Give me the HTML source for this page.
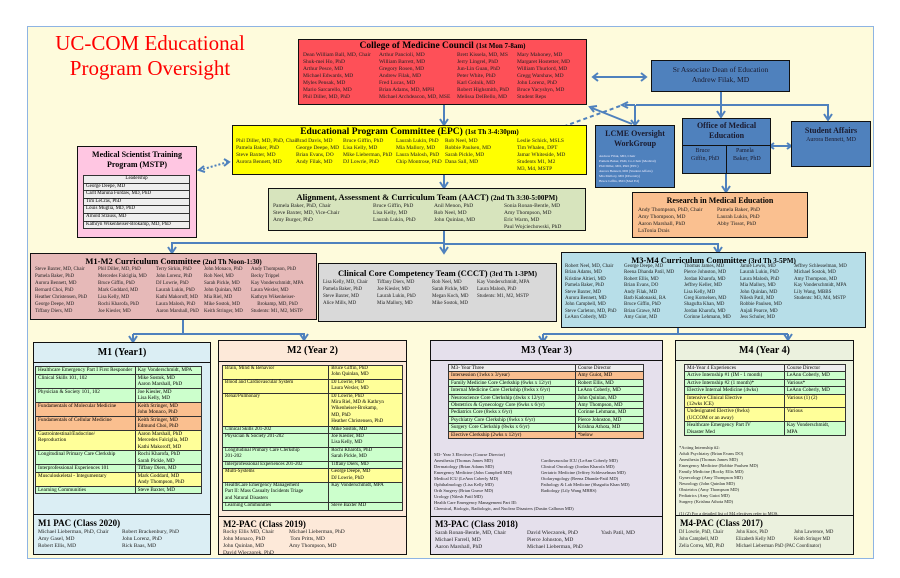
<!DOCTYPE html>
<html><head><meta charset="utf-8"><style>
body{margin:0;width:900px;height:578px;background:#fff;position:relative;overflow:hidden;font-family:"Liberation Serif",serif;}
.a{position:absolute;box-sizing:border-box}
.bx{position:absolute;box-sizing:border-box;border:1.5px solid #111;overflow:hidden}
.h{font-weight:bold;text-align:center;font-size:10px;line-height:12px}
.c{position:absolute;font-size:5.5px;line-height:7px;white-space:pre;color:#222}
table{border-collapse:collapse;font-size:5.3px;line-height:6.5px}
td{border:1px solid #333;padding:0 2px;vertical-align:top}
.g{background:#ccffcc}.o{background:#fabf8f}.y{background:#ffff99}.gr{background:#eee}
</style></head><body>
<div class="a" style="left:27px;top:26px;width:847px;height:533px;background:#fefbdc;border:1px solid #8eb4e3"></div>
<div class="a" style="left:40px;top:31px;width:220px;text-align:center;color:#f00;font-size:21px;line-height:25px">UC-COM Educational<br>Program Oversight</div>

<svg class="a" style="left:0;top:0" width="900" height="578">
<g stroke="#4f81bd" stroke-width="2" fill="none">
<path d="M594 77H645"/><path d="M598 73L593 77L598 81M641 73L646 77L641 81"/>
<path d="M721 92V115"/><path d="M717 111L721 117L725 111"/>
<path d="M636 105H828V118"/><path d="M824 114L828 120L832 114"/>
<path d="M635 105V123"/><path d="M631 120L635 125L639 120"/>
<path d="M635 105L625 105"/><path d="M628 102L622 105L628 108"/>
<path d="M632 124L592 108"/><path d="M597 106L590 107L594 112"/>
<path d="M620 106L554 130" stroke-dasharray="4 3"/><path d="M558 126L552 131L559 132"/>
<path d="M771 146H790"/><path d="M774 143L770 146L774 149M787 143L791 146L787 149"/>
<path d="M726 174V190"/><path d="M722 186L726 192L730 186"/>
<path d="M444 105V123"/><path d="M440 119L444 125L448 119"/>
<path d="M444 175V186"/><path d="M440 182L444 188L448 182"/>
<path d="M444 231V251"/><path d="M440 247L444 253L448 247"/>
<path d="M444 243H172V251"/><path d="M168 247L172 253L176 247"/>
<path d="M444 244H718V251"/><path d="M714 247L718 253L722 247"/>
<path d="M183 319V334M133 334H304V340M133 334V340"/><path d="M129 336L133 342L137 336M300 334L304 340L308 334"/>
<path d="M678 328V334M543 334H788M543 334V340M788 334V340"/><path d="M539 336L543 342L547 336M784 334L788 340L792 334"/>
<path d="M228 162L200 170" stroke-dasharray="2 2"/><path d="M204 166L199 170L205 172M224 159L229 162L224 166"/>
</g></svg>

<div class="bx" style="left:298px;top:39px;width:289px;height:66px;background:#fe5058">
<div class="h" style="font-size:9.5px">College of Medicine Council <span style="font-size:7px">(1st Mon 7-8am)</span></div>
<div class="c" style="left:4px;top:12px">Dean William Ball, MD, Chair
Shuk-mei Ho, PhD
Arthur Pesce, MD
Michael Edwards, MD
Myles Pensak, MD
Mario Sarcarello, MD
Phil Diller, MD, PhD</div>
<div class="c" style="left:80px;top:12px">Arthur Pancioli, MD
William Barrett, MD
Gregory Rosen, MD
Andrew Filak, MD
Fred Lucas, MD
Brian Adams, MD, MPH
Michael Archdeacon, MD, MSE</div>
<div class="c" style="left:158px;top:12px">Brett Kissela, MD, MS
Jerry Lingrel, PhD
Jun-Lin Guan, PhD
Peter White, PhD
Karl Golnik, MD
Robert Highsmith, PhD
Melissa DelBello, MD</div>
<div class="c" style="left:218px;top:12px">Mary Mahoney, MD
Margaret Hostetter, MD
William Thurlord, MD
Gregg Warshaw, MD
John Lorenz, PhD
Bruce Yacyshyn, MD
Student Reps</div></div>

<div class="bx" style="left:651px;top:60px;width:139px;height:32px;background:#4f81bd;color:#1a1a2e;text-align:center;font-size:7.5px;line-height:10px;padding-top:4px">Sr Associate Dean of Education<br>Andrew Filak, MD</div>

<div class="bx" style="left:232px;top:125px;width:355px;height:50px;background:#ffff00">
<div class="h" style="font-size:9.5px">Educational Program Committee (EPC) <span style="font-size:7px">(1st Th 3-4:30pm)</span></div>
<div class="c" style="left:3px;top:12px">Phil Diller, MD, PhD, Chair
Pamela Baker, PhD
Steve Baxter, MD
Aurora Bennett, MD</div>
<div class="c" style="left:63px;top:12px">Brad Davis, MD
George Deepe, MD
Brian Evans, DO
Andy Filak, MD</div>
<div class="c" style="left:110px;top:12px">Bruce Giffin, PhD
Lisa Kelly, MD
Mike Lieberman, PhD
DJ Lowrie, PhD</div>
<div class="c" style="left:163px;top:12px">Laurah Lukin, PhD
Mia Mallory, MD
Laura Malosh, PhD
Chip Montrose, PhD</div>
<div class="c" style="left:212px;top:12px">Rob Neel, MD
Robbie Paulsen, MD
Sarah Pickle, MD
Dana Sall, MD</div>
<div class="c" style="left:284px;top:12px">Leslie Schick, MSLS
Tim Whalen, DPT
Jamar Whiteside, MD
Students M1, M2
M3, M4, MSTP</div></div>

<div class="bx" style="left:77px;top:146px;width:120px;height:92px;background:#ffc6e2">
<div class="h" style="font-size:8px;line-height:10px;margin-top:3px">Medical Scientist Training<br>Program (MSTP)</div>
<table style="position:absolute;left:5px;top:28px;width:107px;background:#eee;font-size:5px;line-height:6.6px"><tr><td style="text-align:center">Leadership</td></tr><tr><td>George Deepe, MD</td></tr><tr><td>Carlt Maruna Furdaw, MD, PhD</td></tr><tr><td>Tim LeCras, PhD</td></tr><tr><td>Louis Muglia, MD, PhD</td></tr><tr><td>Arnold Strauss, MD</td></tr><tr><td>Kathryn Wikenheiser-Brokamp, MD, PhD</td></tr></table></div>

<div class="bx" style="left:595px;top:125px;width:80px;height:63px;background:#4f81bd">
<div class="h" style="font-size:8px;line-height:10px;margin-top:3px;color:#1a1a2e">LCME Oversight<br>WorkGroup</div>
<div class="c" style="left:3px;top:28px;font-size:3.5px;line-height:5px;color:#eef">Andrew Filak, MD, Chair
Pamela Baker, PhD, Co-Chair (Medical)
Phil Diller, MD, PhD (EPC)
Aurora Bennett, MD (Student Affairs)
Mia Mallory, MD (Diversity)
Bruce Giffin, PhD (Med Ed)</div></div>

<div class="bx" style="left:682px;top:118px;width:89px;height:56px;background:#4f81bd">
<div class="h" style="font-size:8px;line-height:10px;margin-top:2px;color:#1a1a2e">Office of Medical<br>Education</div>
<div class="a" style="left:0;top:26px;width:100%;border-top:1.5px solid #111"></div>
<div class="a" style="left:43px;top:26px;height:28px;border-left:1.5px solid #111"></div>
<div class="c" style="left:8px;top:28px;font-size:6px;line-height:8px;color:#1a1a2e">   Bruce
Giffin, PhD</div>
<div class="c" style="left:50px;top:28px;font-size:6px;line-height:8px;color:#1a1a2e">  Pamela
Baker, PhD</div></div>

<div class="bx" style="left:791px;top:121px;width:80px;height:46px;background:#4f81bd">
<div class="h" style="font-size:8px;margin-top:3px;color:#1a1a2e">Student Affairs</div>
<div style="text-align:center;font-size:6px;color:#1a1a2e">Aurora Bennett, MD</div></div>

<div class="bx" style="left:632px;top:192px;width:176px;height:46px;background:#fac090">
<div class="h" style="font-size:8px;margin-top:2px">Research in Medical Education</div>
<div class="c" style="left:5px;top:14px">Andy Thompson, PhD, Chair
Amy Thompson, MD
Aaron Marshall, PhD
LaTonia Drais</div>
<div class="c" style="left:84px;top:14px">Pamela Baker, PhD
Laurah Lukin, PhD
Abby Tissot, PhD</div></div>

<div class="bx" style="left:268px;top:188px;width:318px;height:43px;background:#d7e4bd">
<div class="h" style="font-size:8.5px;margin-top:2px">Alignment, Assessment &amp; Curriculum Team (AACT) <span style="font-size:7px">(2nd Th 3:30-5:00PM)</span></div>
<div class="c" style="left:4px;top:14px">Pamela Baker, PhD, Chair
Steve Baxter, MD, Vice-Chair
Amy Burger, PhD</div>
<div class="c" style="left:104px;top:14px">Bruce Giffin, PhD
Lisa Kelly, MD
Laurah Lukin, PhD</div>
<div class="c" style="left:165px;top:14px">Anil Menon, PhD
Rob Neel, MD
John Quinlan, MD</div>
<div class="c" style="left:235px;top:14px">Sonia Ronan-Bentle, MD
Amy Thompson, MD
Eric Warm, MD
Paul Wojciechowski, PhD</div></div>

<div class="bx" style="left:30px;top:253px;width:287px;height:67px;background:#e6b9b8">
<div class="h" style="font-size:8.5px;margin-top:1px">M1-M2 Curriculum Committee <span style="font-size:7px">(2nd Th Noon-1:30)</span></div>
<div class="c" style="left:4px;top:12px;font-size:5px">Steve Baxter, MD, Chair
Pamela Baker, PhD
Aurora Bennett, MD
Bernard Choi, PhD
Heather Christensen, PhD
George Deepe, MD
Tiffany Diers, MD</div>
<div class="c" style="left:67px;top:12px;font-size:5px">Phil Diller, MD, PhD
Mercedes Falciglia, MD
Bruce Giffin, PhD
Mark Goddard, MD
Lisa Kelly, MD
Rochi Kharofa, PhD
Joe Kiesler, MD</div>
<div class="c" style="left:125px;top:12px;font-size:5px">Terry Sirkin, PhD
John Lorenz, PhD
DJ Lowrie, PhD
Laurah Lukin, PhD
Kathi Makoroff, MD
Laura Malosh, PhD
Aaron Marshall, PhD</div>
<div class="c" style="left:173px;top:12px;font-size:5px">John Monaco, PhD
Rob Neel, MD
Sarah Pickle, MD
John Quinlan, MD
Mia Riel, MD
Mike Sostok, MD
Keith Stringer, MD</div>
<div class="c" style="left:220px;top:12px;font-size:5px">Andy Thompson, PhD
Becky Trippel
Kay Vonderschmidt, MPA
Laura Wexler, MD
Kathryn Wikenheiser-
     Brokamp, MD, PhD
Students: M1, M2, MSTP</div></div>

<div class="bx" style="left:318px;top:263px;width:239px;height:59px;background:#d9d9d9">
<div class="h" style="font-size:8.5px;margin-top:3px">Clinical Core Competency Team (CCCT) <span style="font-size:7px">(3rd Th 1-3PM)</span></div>
<div class="c" style="left:4px;top:15px;font-size:5px">Lisa Kelly, MD, Chair
Pamela Baker, PhD
Steve Baxter, MD
Alice Mills, MD</div>
<div class="c" style="left:58px;top:15px;font-size:5px">Tiffany Diers, MD
Joe Kiesler, MD
Laurah Lukin, PhD
Mia Mallory, MD</div>
<div class="c" style="left:113px;top:15px;font-size:5px">Rob Neel, MD
Sarah Pickle, MD
Megan Koch, MD
Mike Sostok, MD</div>
<div class="c" style="left:158px;top:15px;font-size:5px">Kay Vonderschmidt, MPA
Laura Malosh, PhD
Students: M1, M2, MSTP</div></div>

<div class="bx" style="left:561px;top:252px;width:305px;height:76px;background:#b7dee8">
<div class="h" style="font-size:8.5px;margin-top:1px">M3-M4 Curriculum Committee <span style="font-size:7px">(3rd Th 3-5PM)</span></div>
<div class="c" style="left:3px;top:11px;font-size:5px;line-height:6.4px">Robert Neel, MD, Chair
Brian Adams, MD
Kristine Altieri, MD
Pamela Baker, PhD
Steve Baxter, MD
Aurora Bennett, MD
John Campbell, MD
Steve Carleton, MD, PhD
LeAnn Coberly, MD</div>
<div class="c" style="left:62px;top:11px;font-size:5px;line-height:6.4px">George Deepe, MD
Reena Dhanda Patil, MD
Robert Ellis, MD
Brian Evans, DO
Andy Filak, MD
Barb Kadonaski, BA
Bruce Giffin, PhD
Brian Grawe, MD
Amy Guiot, MD</div>
<div class="c" style="left:122px;top:11px;font-size:5px;line-height:6.4px">Thomas James, MD
Pierce Johnston, MD
Jordan Kharofa, MD
Jeffrey Keller, MD
Lisa Kelly, MD
Greg Kornelsen, MD
Shagufta Khan, MD
Jordan Kharofa, MD
Corinne Lehmann, MD</div>
<div class="c" style="left:178px;top:11px;font-size:5px;line-height:6.4px">Jamie Lewis, MD
Laurah Lukin, PhD
Laura Malosh, PhD
Mia Mallory, MD
John Quinlan, MD
Nilesh Patil, MD
Robbie Paulsen, MD
Anjali Pearce, MD
Jess Schuler, MD</div>
<div class="c" style="left:232px;top:11px;font-size:5px;line-height:6.4px">Jeffrey Schlesselman, MD
Michael Sostok, MD
Amy Thompson, MD
Kay Vonderschmidt, MPA
Lily Wang, MBBS
Students: M3, M4, MSTP</div></div>

<!-- M1 -->
<div class="bx" style="left:33px;top:342px;width:178px;height:213px;background:#dbeef4">
<div class="a" style="left:0;top:0;width:100%;height:20px;border-bottom:1.5px solid #111" ><div class="h" style="margin-top:4px">M1 (Year1)</div></div>
<table style="position:absolute;left:1px;top:23px;width:167px;font-size:5.2px;line-height:6.5px">
<tr class="g"><td style="width:60%">Healthcare Emergency Part I First Responder</td><td>Kay Vonderschmidt, MPA</td></tr>
<tr class="g"><td>Clinical Skills 101, 102</td><td>Mike Sostok, MD<br>Aaron Marshall, PhD</td></tr>
<tr class="g"><td>Physician &amp; Society 101, 102</td><td>Joe Kiesler, MD<br>Lisa Kelly, MD</td></tr>
<tr class="o"><td>Fundamentals of Molecular Medicine</td><td>Keith Stringer, MD<br>John Monaco, PhD</td></tr>
<tr class="o"><td>Fundamentals of Cellular Medicine</td><td>Keith Stringer, MD<br>Edmund Choi, PhD</td></tr>
<tr class="y"><td>Gastrointestinal/Endocrine/<br>Reproduction</td><td>Aaron Marshall, PhD<br>Mercedes Falciglia, MD<br>Kathi Makoroff, MD</td></tr>
<tr class="g"><td>Longitudinal Primary Care Clerkship</td><td>Rochi Kharofa, PhD<br>Sarah Pickle, MD</td></tr>
<tr class="g"><td>Interprofessional Experiences 101</td><td>Tiffany Diers, MD</td></tr>
<tr class="y"><td>Musculoskeletal - Integumentary</td><td>Mark Goddard, MD<br>Andy Thompson, PhD</td></tr>
<tr class="g"><td>Learning Communities</td><td>Steve Baxter, MD</td></tr></table>
<div class="a" style="left:0;top:171px;width:100%;height:45px;border-top:1.5px solid #111;background:#dbeef4"></div>
<div class="h" style="position:absolute;left:4px;top:174px;font-size:9px;text-align:left">M1 PAC (Class 2020)</div>
<div class="c" style="left:4px;top:186px">Michael Lieberman, PhD, Chair
Amy Gasel, MD
Robert Ellis, MD</div>
<div class="c" style="left:88px;top:186px">Robert Brackenbury, PhD
John Lorenz, PhD
Rick Baas, MD</div></div>

<!-- M2 -->
<div class="bx" style="left:218px;top:340px;width:189px;height:215px;background:#fde9d9">
<div class="a" style="left:0;top:0;width:100%;height:21px;border-bottom:1.5px solid #111"><div class="h" style="margin-top:4px">M2 (Year 2)</div></div>
<table style="position:absolute;left:3px;top:24px;width:181px;font-size:5px;line-height:6.4px" class="y">
<tr><td style="width:59%">Brain, Mind &amp; Behavior</td><td>Bruce Giffin, PhD<br>John Quinlan, MD</td></tr>
<tr><td>Blood and Cardiovascular System</td><td>DJ Lowrie, PhD<br>Laura Wexler, MD</td></tr>
<tr><td>Renal/Pulmonary</td><td>DJ Lowrie, PhD<br>Mira Riel, MD &amp; Kathryn<br>Wikenheiser-Brokamp,<br>MD, PhD<br>Heather Christensen, PhD</td></tr>
<tr class="g"><td>Clinical Skills 201-202</td><td>Mike Sostok, MD</td></tr>
<tr class="g"><td>Physician &amp; Society 201-202</td><td>Joe Kiesler, MD<br>Lisa Kelly, MD</td></tr>
<tr class="g"><td>Longitudinal Primary Care Clerkship<br>201-202</td><td>Rochi Kharofa, PhD<br>Sarah Pickle, MD</td></tr>
<tr class="g"><td>Interprofessional Experiences 201-202</td><td>Tiffany Diers, MD</td></tr>
<tr><td>Multi-Systems</td><td>George Deepe, MD<br>DJ Lowrie, PhD</td></tr>
<tr class="g"><td>HealthCare Emergency Management<br>Part II: Mass Casualty Incidents Triage<br>and Natural Disasters</td><td>Kay Vonderschmidt, MPA</td></tr>
<tr class="g"><td>Learning Communities</td><td>Steve Baxter MD</td></tr></table>
<div class="a" style="left:0;top:175px;width:100%;height:40px;border-top:1.5px solid #111;background:#fde9d9"></div>
<div class="h" style="position:absolute;left:4px;top:177px;font-size:9px;text-align:left">M2-PAC (Class 2019)</div>
<div class="c" style="left:4px;top:188px">Rocky Ellis MD, Chair
John Monaco, PhD
John Quinlan, MD
David Wieczorek, PhD</div>
<div class="c" style="left:70px;top:188px">Michael Lieberman, PhD
 Tom Pritts, MD
Amy Thompson, MD</div></div>

<!-- M3 -->
<div class="bx" style="left:430px;top:340px;width:233px;height:215px;background:#e5e0ec">
<div class="a" style="left:0;top:0;width:100%;height:20px;border-bottom:1.5px solid #111"><div class="h" style="margin-top:4px">M3 (Year 3)</div></div>
<table style="position:absolute;left:17px;top:23px;width:196px;font-size:5.2px;line-height:6.4px">
<tr class="gr"><td style="width:65%">M3- Year Three</td><td>Course Director</td></tr>
<tr class="o"><td>Intersession (1wks x 3/year)</td><td>Amy Guiot, MD</td></tr>
<tr class="g"><td>Family Medicine Core Clerkship (6wks x 12/yr)</td><td>Robert Ellis, MD</td></tr>
<tr class="g"><td>Internal Medicine Core Clerkship (8wks x 6/yr)</td><td>LeAnn Coberly, MD</td></tr>
<tr class="g"><td>Neuroscience Core Clerkship (4wks x 12/yr)</td><td>John Quinlan, MD</td></tr>
<tr class="g"><td>Obstetrics &amp; Gynecology Core (6wks x 6/yr)</td><td>Amy Thompson, MD</td></tr>
<tr class="g"><td>Pediatrics Core (8wks x 6/yr)</td><td>Corinne Lehmann, MD</td></tr>
<tr class="g"><td>Psychiatry Core Clerkship (6wks x 6/yr)</td><td>Pierce Johnston, MD</td></tr>
<tr class="g"><td>Surgery Core Clerkship (8wks x 6/yr)</td><td>Krishna Athota, MD</td></tr>
<tr class="o"><td>Elective Clerkship (2wks x 12/yr)</td><td>*below</td></tr></table>
<div class="c" style="left:3px;top:111px;font-size:4.5px;line-height:6px">M3- Year 3 Electives (Course Director)
Anesthesia (Thomas James MD)
Dermatology (Brian Adams MD)
Emergency Medicine (John Campbell MD)
Medical ICU (LeAnn Coberly MD)
Ophthalmology (Lisa Kelly MD)
Orth Surgery (Brian Grawe MD)
Urology (Nilesh Patil MD)
Health Care Emergency Management Part III:
Chemical, Biologic, Radiologic, and Nuclear Disasters (Dustin Calhoun MD)</div>
<div class="c" style="left:110px;top:117px;font-size:4.5px;line-height:6px">Cardiovascular ICU (LeAnn Coberly MD)
Clinical Oncology (Jordan Kharofa MD)
Geriatric Medicine (Jeffrey Schlesselman MD)
Otolaryngology (Reena Dhanda-Patil MD)
Pathology &amp; Lab Medicine (Shagufta Khan MD)
Radiology (Lily Wang MBBS)</div>
<div class="a" style="left:0;top:175px;width:100%;border-top:1.5px solid #111"></div>
<div class="h" style="position:absolute;left:4px;top:177px;font-size:9px;text-align:left">M3-PAC (Class 2018)</div>
<div class="c" style="left:4px;top:189px">Sarah Ronan-Bentle, MD, Chair
Michael Farrell, MD
Aaron Marshall, PhD</div>
<div class="c" style="left:96px;top:189px">David Wieczorek, PhD
Pierce Johnston, MD
Michael Lieberman, PhD</div>
<div class="c" style="left:170px;top:189px">Yash Patil, MD</div></div>

<!-- M4 -->
<div class="bx" style="left:675px;top:340px;width:179px;height:215px;background:#ebf1de">
<div class="a" style="left:0;top:0;width:100%;height:20px;border-bottom:1.5px solid #111"><div class="h" style="margin-top:4px">M4 (Year 4)</div></div>
<table style="position:absolute;left:8px;top:23px;width:162px;font-size:5.2px;line-height:6.4px">
<tr class="gr"><td style="width:62%">M4-Year 4 Experiences</td><td>Course Director</td></tr>
<tr class="g"><td>Active Internship #1 (IM - 1 month)</td><td>LeAnn Coberly, MD</td></tr>
<tr class="g"><td>Active Internship #2 (1 month)*</td><td>Various*</td></tr>
<tr class="g"><td>Elective Internal Medicine (4wks)</td><td>LeAnn Coberly, MD</td></tr>
<tr class="y"><td>Intensive Clinical Elective<br>(12wks ICE)</td><td>Various (1) (2)</td></tr>
<tr class="y"><td>Undesignated Elective (8wks)<br>(UCCOM or an away)</td><td>Various</td></tr>
<tr class="g"><td>Healthcare Emergency Part IV<br>Disaster Med</td><td>Kay Vonderschmidt,<br>MPA</td></tr></table>
<div class="c" style="left:3px;top:104px;font-size:4.5px;line-height:6px">*Acting Internship #2:
Adult Psychiatry (Brian Evans DO)
Anesthesia (Thomas James MD)
Emergency Medicine (Robbie Paulsen MD)
Family Medicine (Rocky Ellis MD)
Gynecology (Amy Thompson MD)
Neurology (John Quinlan MD)
Obstetrics (Amy Thompson MD)
Pediatrics (Amy Guiot MD)
Surgery (Krishna Athota MD)

(1) (2) For a detailed list of M4 electives refer to MOS.</div>
<div class="a" style="left:0;top:174px;width:100%;border-top:1.5px solid #111"></div>
<div class="h" style="position:absolute;left:4px;top:176px;font-size:9px;text-align:left">M4-PAC (Class 2017)</div>
<div class="c" style="left:3px;top:188px;font-size:4.8px">DJ Lowrie, PhD, Chair
John Campbell, MD
Zelia Correa, MD, PhD</div>
<div class="c" style="left:60px;top:188px;font-size:4.8px">John Knox, PhD
Elizabeth Kelly MD
Michael Lieberman PhD (PAC Coordinator)</div>
<div class="c" style="left:118px;top:188px;font-size:4.8px">John Lawrence, MD
Keith Stringer MD</div></div>
</body></html>
